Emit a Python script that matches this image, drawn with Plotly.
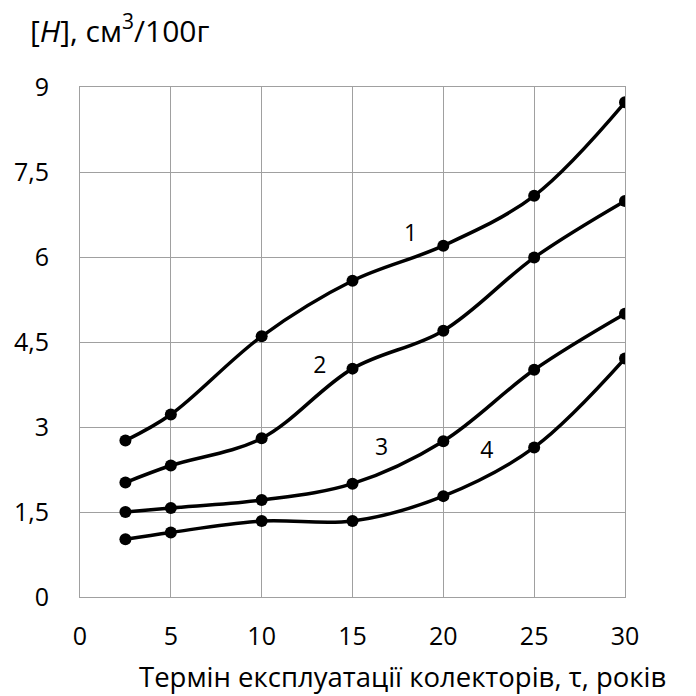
import plotly.graph_objects as go

x = [2.5, 5, 10, 15, 20, 25, 30]
s1 = [2.76, 3.22, 4.6, 5.58, 6.2, 7.08, 8.73]
s2 = [2.02, 2.32, 2.8, 4.03, 4.7, 5.99, 6.99]
s3 = [1.5, 1.57, 1.71, 2.0, 2.75, 4.01, 5.0]
s4 = [1.02, 1.14, 1.34, 1.34, 1.78, 2.64, 4.21]
series = [s1, s2, s3, s4]
labels = ["1", "2", "3", "4"]
label_x = [18.2, 13.2, 16.6, 22.4]
label_y = [6.39, 4.05, 2.6, 2.55]
yticks = [0, 1.5, 3, 4.5, 6, 7.5, 9]
ytext = ["0", "1,5", "3", "4,5", "6", "7,5", "9"]
xticks = [0, 5, 10, 15, 20, 25, 30]

FONT = "Open Sans"
fig = go.Figure()
for s in series:
    fig.add_trace(go.Scatter(
        x=x, y=s, mode="lines+markers",
        line=dict(color="black", width=3.5, shape="spline", smoothing=1),
        marker=dict(color="black", size=12),
        showlegend=False, hoverinfo="skip"))

fig.add_trace(go.Scatter(
    x=label_x, y=label_y, mode="text", text=labels,
    textfont=dict(family=FONT, size=23, color="black"),
    showlegend=False, hoverinfo="skip"))

fig.update_layout(
    width=696, height=696,
    margin=dict(l=80, r=71, t=87, b=99),
    paper_bgcolor="white", plot_bgcolor="white",
    font=dict(family=FONT, color="black"),
    annotations=[
        dict(text="[<i>H</i>], см<sup>3</sup>/100г",
             xref="paper", yref="paper", x=-0.0954, y=1.0,
             yshift=58, xanchor="left", yanchor="middle",
             showarrow=False, font=dict(family=FONT, size=30, color="black")),
        dict(text="Термін експлуатації колекторів, τ, років",
             xref="paper", yref="paper", x=0.591, y=0.0,
             yshift=-79, xanchor="center", yanchor="middle",
             showarrow=False, font=dict(family=FONT, size=27.5, color="black")),
    ],
)
fig.update_xaxes(
    range=[0, 30], tickvals=xticks, ticktext=[str(v) for v in xticks],
    showgrid=True, gridcolor="#a0a0a0", gridwidth=1,
    showline=True, linecolor="#a0a0a0", linewidth=1, mirror=True,
    zeroline=False, ticks="", tickfont=dict(family=FONT, size=25),
    ticklabelstandoff=17)
fig.update_yaxes(
    range=[0, 9], tickvals=yticks, ticktext=ytext,
    showgrid=True, gridcolor="#a0a0a0", gridwidth=1,
    showline=True, linecolor="#a0a0a0", linewidth=1, mirror=True,
    zeroline=False, ticks="", tickfont=dict(family=FONT, size=25),
    ticklabelstandoff=25)

fig.write_html("out.html")
